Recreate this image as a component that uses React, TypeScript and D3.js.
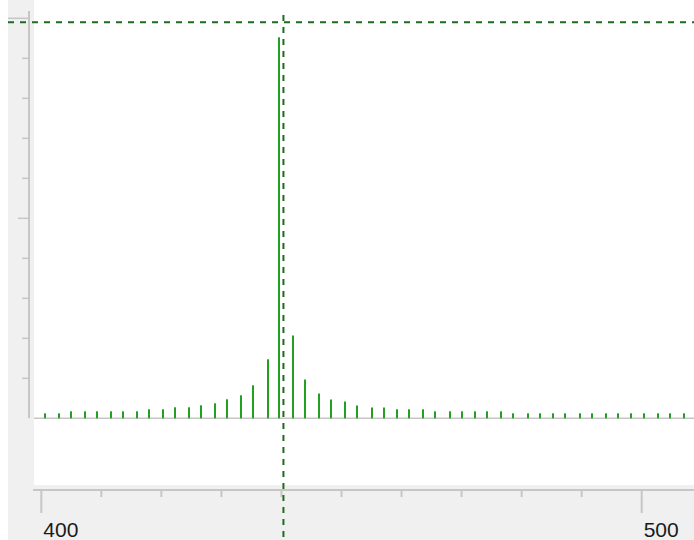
import React from "react";
import * as d3 from "d3";

// stem positions (x units) and heights (y units)
const stemX = [
  400.6, 403.0, 404.9, 407.3, 409.3, 411.6, 413.6, 415.9, 417.9, 420.3,
  422.3, 424.6, 426.6, 428.9, 430.9, 433.3, 435.3, 437.7, 439.6, 442.0,
  444.0, 446.3, 448.3, 450.6, 452.6, 455.0, 457.0, 459.2, 461.2, 463.6,
  465.6, 468.0, 470.0, 472.3, 474.3, 476.6, 478.6, 481.0, 483.0, 485.3,
  487.3, 489.7, 491.7, 494.0, 496.0, 498.3, 500.3, 502.7, 504.7, 507.0,
];
const stemY = [
  1.25, 1.25, 1.75, 1.75, 1.75, 1.75, 1.75, 1.75, 2.25, 2.25,
  2.75, 2.75, 3.25, 3.75, 4.75, 5.75, 8.25, 14.75, 95.25, 20.7,
  9.7, 6.2, 4.7, 4.2, 3.2, 2.7, 2.7, 2.25, 2.25, 2.25,
  1.75, 1.75, 1.75, 1.75, 1.75, 1.75, 1.25, 1.25, 1.25, 1.25,
  1.25, 1.25, 1.25, 1.25, 1.25, 1.25, 1.25, 1.25, 1.25, 1.25,
];
const xTickLabels = [400, 500];
const cursor = { x: 440.33, y: 99 };

const W = 694;
const H = 540;
const PANEL = "#f0f0f0";
const AXIS = "#c6c6c6";
const BAR = "#22a022";
const DASH = "#1f6b1f";

export default function App() {
  const x = d3.scaleLinear().domain([400, 500]).range([41.3, 641.7]);
  const y = d3.scaleLinear().domain([0, 100]).range([418.3, 18.3]);
  const data = stemX.map((v, i) => ({ x: v, y: stemY[i] }));

  const plotLeft = 34;
  const plotBottom = 485;
  const axisY = 490;

  return (
    <svg
      width={W}
      height={H}
      style={{ position: "absolute", left: 0, top: 0, display: "block" }}
    >
      <rect x={0} y={0} width={W} height={H} fill="#fff" />
      {/* gray frame */}
      <rect x={8} y={0} width={W - 8} height={H} fill={PANEL} />
      <rect x={plotLeft} y={0} width={W - plotLeft} height={plotBottom} fill="#fff" />

      {/* y axis */}
      <line x1={29} x2={29} y1={11} y2={y(0)} stroke={AXIS} strokeWidth={2} />
      {y.ticks(10).filter((t) => t > 0).map((t) => (
        <line
          key={t}
          x1={t === 100 ? 8 : t % 50 === 0 ? 18 : 22}
          x2={29}
          y1={y(t)}
          y2={y(t)}
          stroke={AXIS}
          strokeWidth={1.5}
        />
      ))}

      {/* baseline */}
      <line x1={plotLeft} x2={W} y1={y(0)} y2={y(0)} stroke={AXIS} strokeWidth={1.6} />

      {/* stems */}
      {data.map((d, i) => (
        <rect
          key={i}
          x={Math.round(x(d.x)) - 1}
          y={y(d.y)}
          width={2}
          height={y(0) - y(d.y)}
          fill={BAR}
        />
      ))}

      {/* x axis */}
      <line x1={33} x2={W} y1={axisY} y2={axisY} stroke={AXIS} strokeWidth={2} />
      {x.ticks(10).map((t) => (
        <line
          key={t}
          x1={x(t)}
          x2={x(t)}
          y1={axisY}
          y2={t % 100 === 0 ? 513 : 497}
          stroke={AXIS}
          strokeWidth={2}
        />
      ))}
      {xTickLabels.map((t) => (
        <text
          key={t}
          x={x(t) + 2}
          y={537}
          fontFamily="Liberation Sans, Arial, sans-serif"
          fontSize={21}
          fill="#1a1a1a"
        >
          {t}
        </text>
      ))}

      {/* cursor cross */}
      <line
        x1={8}
        x2={W}
        y1={y(cursor.y)}
        y2={y(cursor.y)}
        stroke={DASH}
        strokeWidth={2}
        strokeDasharray="6 6"
      />
      <line
        x1={x(cursor.x)}
        x2={x(cursor.x)}
        y1={15}
        y2={H}
        stroke={DASH}
        strokeWidth={2}
        strokeDasharray="6 6"
      />
    </svg>
  );
}
